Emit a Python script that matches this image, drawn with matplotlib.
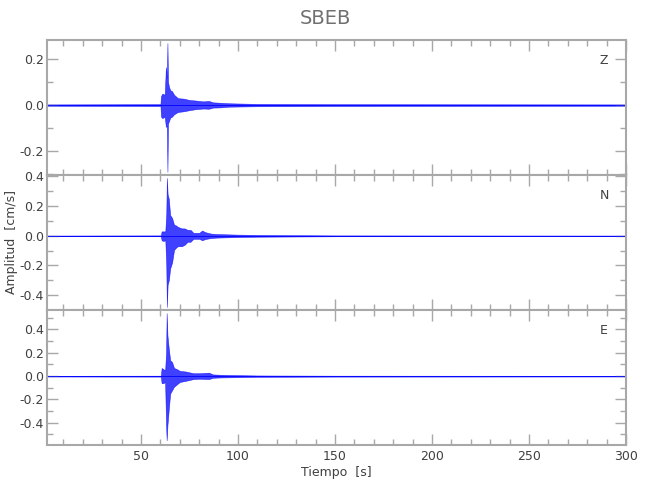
import numpy as np
import matplotlib.pyplot as plt
from matplotlib.ticker import MultipleLocator

# envelope of each trace (time in s, amplitude in cm/s)
t_z = [1.5, 60.0, 60.3, 61.0, 62.2, 62.8, 63.3, 63.6, 63.9, 64.4, 65.0, 66.0, 67.0,
       69.0, 72.0, 75.0, 78.0, 82.0, 85.0, 87.0, 91.0, 95.0, 110.0, 150.0, 300.0]
hi_z = [0.003, 0.004, 0.04, 0.05, 0.045, 0.165, 0.12, 0.27, 0.1, 0.08, 0.065, 0.06, 0.045,
        0.03, 0.028, 0.022, 0.02, 0.016, 0.018, 0.012, 0.01, 0.008, 0.005, 0.004, 0.003]
lo_z = [-0.003, -0.004, -0.05, -0.057, -0.05, -0.095, -0.09, -0.29, -0.08, -0.07, -0.055, -0.05, -0.04,
        -0.03, -0.027, -0.022, -0.018, -0.015, -0.016, -0.011, -0.01, -0.007, -0.005, -0.004, -0.003]

t_n = [1.5, 60.2, 60.6, 61.5, 62.5, 63.0, 63.3, 63.7, 64.3, 65.0, 66.0, 67.0, 68.0, 69.0,
       71.0, 72.5, 74.0, 75.5, 77.0, 80.0, 81.5, 83.0, 86.0, 89.0, 100.0, 110.0, 150.0, 300.0]
hi_n = [0.002, 0.003, 0.03, 0.03, 0.03, 0.15, 0.39, 0.28, 0.25, 0.14, 0.12, 0.075, 0.07, 0.06,
        0.05, 0.05, 0.04, 0.04, 0.02, 0.02, 0.036, 0.025, 0.015, 0.012, 0.008, 0.006, 0.003, 0.002]
lo_n = [-0.002, -0.003, -0.03, -0.035, -0.03, -0.2, -0.48, -0.33, -0.3, -0.22, -0.18, -0.095, -0.08, -0.07,
        -0.07, -0.06, -0.04, -0.04, -0.02, -0.02, -0.03, -0.022, -0.015, -0.012, -0.008, -0.006, -0.003, -0.002]

t_e = [1.5, 60.2, 60.6, 61.5, 62.4, 62.9, 63.2, 63.6, 64.2, 65.0, 66.0, 67.0, 68.5, 70.0,
       73.0, 77.0, 80.0, 85.0, 87.0, 91.0, 95.0, 110.0, 150.0, 300.0]
hi_e = [0.003, 0.004, 0.07, 0.06, 0.05, 0.2, 0.54, 0.35, 0.25, 0.137, 0.12, 0.07, 0.06, 0.045,
        0.04, 0.025, 0.025, 0.03, 0.015, 0.012, 0.01, 0.006, 0.004, 0.003]
lo_e = [-0.003, -0.004, -0.06, -0.06, -0.05, -0.42, -0.55, -0.42, -0.3, -0.15, -0.12, -0.09, -0.07, -0.05,
        -0.04, -0.025, -0.022, -0.025, -0.014, -0.011, -0.01, -0.006, -0.004, -0.003]

traces = [("Z", t_z, hi_z, lo_z, (-0.304, 0.283)),
          ("N", t_n, hi_n, lo_n, (-0.50, 0.41)),
          ("E", t_e, hi_e, lo_e, (-0.59, 0.567))]

grey = "#a8a8a8"
txt = "#404040"
plt.rcParams['font.family'] = ['DejaVu Sans']
plt.rcParams['axes.unicode_minus'] = False

fig = plt.figure(figsize=(6.5, 5), dpi=100)
bottoms = [0.65, 0.38, 0.11]
axes = []
for (name, t, hi, lo, ylim), b in zip(traces, bottoms):
    ax = fig.add_axes([0.0723, b, 0.8907, 0.27])
    t = np.array(t)
    ax.fill_between(t, lo, hi, color="#0000ff", lw=0.4, alpha=0.75)
    ax.plot(t, np.zeros_like(t), color="#0000ff", lw=0.6)
    ax.set_xlim(1.5, 300)
    ax.set_ylim(*ylim)
    ax.xaxis.set_major_locator(MultipleLocator(50))
    ax.xaxis.set_minor_locator(MultipleLocator(10))
    ax.yaxis.set_major_locator(MultipleLocator(0.2))
    ax.yaxis.set_minor_locator(MultipleLocator(0.1))
    ax.tick_params(which="both", direction="in", top=True, right=True,
                   color=grey, labelcolor=txt, labelsize=9, width=1)
    ax.tick_params(which="major", length=8)
    ax.tick_params(which="minor", length=4)
    ax.tick_params(axis="y", pad=2)
    ax.yaxis.set_major_formatter(plt.FormatStrFormatter("%.1f"))
    for s in ax.spines.values():
        s.set_color(grey)
        s.set_linewidth(1.5)
    ax.text(0.962, 0.85, name, transform=ax.transAxes, ha="center", va="center",
            color=txt, fontsize=9)
    if b != bottoms[-1]:
        ax.tick_params(labelbottom=False)
    axes.append(ax)

axes[-1].set_xlabel("Tiempo  [s]", color=txt, fontsize=9, labelpad=2)
fig.text(0.5, 0.962, "SBEB", ha="center", va="center", color="#707070", fontsize=14)
fig.text(0.018, 0.515, "Amplitud  [cm/s]", rotation=90, ha="center", va="center",
         color=txt, fontsize=9)

fig.savefig("out.png", dpi=100)
